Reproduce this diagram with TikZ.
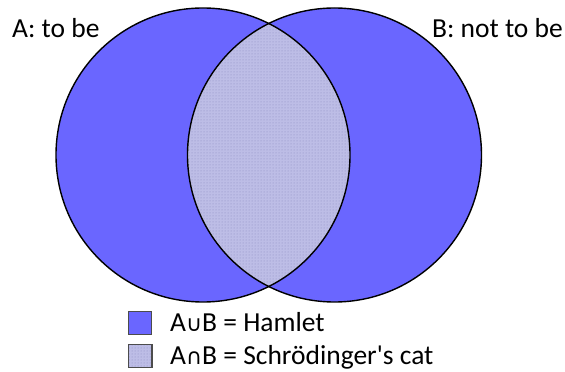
\documentclass[tikz,border=0pt]{standalone}
\usepackage{fontspec}
\setmainfont{Carlito}
\newfontfamily\symfont{DejaVu Sans}
\usetikzlibrary{patterns}
\definecolor{setblue}{HTML}{6A66FF}
\definecolor{interfill}{HTML}{BDBDE6}
\definecolor{interdot}{HTML}{8A8AC0}
\tikzset{
  setcircle/.style={fill=setblue},
  outline/.style={draw=black, line width=1.4pt},
  label/.style={font=\fontsize{27.5}{30}\selectfont, inner sep=0pt},
  legendbox/.style={draw=black!70, line width=0.6pt, minimum size=23pt, inner sep=0pt},
}
\newcommand{\setop}[1]{{\symfont\fontsize{22}{24}\selectfont #1}}
\begin{document}
\begin{tikzpicture}[x=1pt,y=1pt]
\useasboundingbox (0,0) rectangle (565,372);
\coordinate (ca) at (203,217);
\coordinate (cb) at (334.5,217);
\fill[setcircle] (ca) circle (147);
\fill[setcircle] (cb) circle (147);
\begin{scope}
  \clip (ca) circle (147);
  \fill[interfill] (cb) circle (147);
  \fill[pattern=dots, pattern color=interdot] (cb) circle (147);
\end{scope}
\draw[outline] (ca) circle (147);
\draw[outline] (cb) circle (147);
\node[label, anchor=base west] (la) at (12,334) {A: to be};
\node[label, anchor=base east] (lb) at (563,334) {B: not to be};
\node[legendbox, fill=setblue] (k1) at (140,49) {};
\node[legendbox, fill=interfill] (k2) at (140,16) {};
\fill[pattern=dots, pattern color=interdot] (k2.south west) rectangle (k2.north east);
\draw[draw=black!70, line width=0.6pt] (k2.south west) rectangle (k2.north east);
\node[label, anchor=base west] (t1) at (170,40) {A\setop{∪}B = Hamlet};
\node[label, anchor=base west] (t2) at (170,7) {A\setop{∩}B = Schrödinger\textquotesingle s cat};
\end{tikzpicture}
\end{document}
